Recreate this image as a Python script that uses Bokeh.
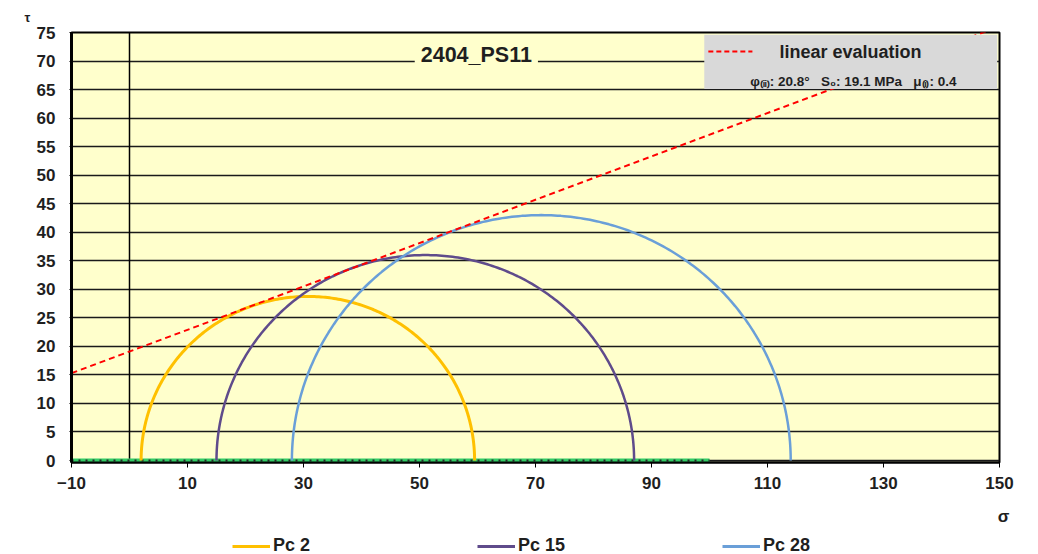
import numpy as np
from bokeh.plotting import figure
from bokeh.layouts import column
from bokeh.models import Range1d, FixedTicker, Legend, LegendItem, Label, Span
from bokeh.embed import file_html
from bokeh.resources import INLINE

# Mohr circles: confining pressure (sigma3) and peak axial stress (sigma1), MPa
pc_labels = ["Pc 2", "Pc 15", "Pc 28"]
sigma3 = [2.0, 15.0, 28.0]
sigma1 = [59.5, 87.0, 114.0]
circle_colors = ["#ffc000", "#5f4b8b", "#6a9fd8"]
circle_widths = [3, 2.5, 2.5]

# Linear (Mohr-Coulomb) evaluation
phi_deg = 20.8
s0 = 19.1
mu = 0.4
env_sigma = [-10.0, 150.0]

# Tested stress range marked on the sigma axis
tested_range = [-10.0, 100.0]

x_ticks = [-10, 10, 30, 50, 70, 90, 110, 130, 150]
y_ticks = list(range(0, 80, 5))

FONT = "Liberation Sans"
TXT = "#1f1f1f"
NB = "\u00a0"

p = figure(width=1038, height=508, output_backend="svg", toolbar_location=None,
           x_range=Range1d(-10, 150), y_range=Range1d(-0.35, 75),
           min_border_left=71, min_border_right=39,
           min_border_top=31, min_border_bottom=46)
p.background_fill_color = "#ffffcc"
p.border_fill_color = "white"
p.outline_line_color = "black"
p.outline_line_width = 2

# axes
p.xaxis.ticker = FixedTicker(ticks=x_ticks)
p.yaxis.ticker = FixedTicker(ticks=y_ticks)
for ax in (p.xaxis[0], p.yaxis[0]):
    ax.major_label_text_font = FONT
    ax.major_label_text_font_style = "bold"
    ax.major_label_text_font_size = "17px"
    ax.major_label_text_color = TXT
    ax.axis_line_color = "black"
    ax.major_tick_line_color = "black"
    ax.minor_tick_line_color = None
p.xaxis.axis_line_width = 2
p.xaxis.major_tick_in = 0
p.xaxis.major_tick_out = 5
p.xaxis.major_label_standoff = 9
p.yaxis.axis_line_width = 3
p.yaxis.major_tick_in = 0
p.yaxis.major_tick_out = 2
p.yaxis.major_label_standoff = 14

# grid
p.xgrid.grid_line_color = None
p.ygrid.ticker = FixedTicker(ticks=y_ticks)
p.ygrid.grid_line_color = "#1a1a1a"
p.ygrid.grid_line_width = 1.6

p.add_layout(Span(location=0, dimension="height", line_color="black",
                  line_width=1.5, level="underlay"))

# tested stress range on the sigma axis
p.line(tested_range, [0, 0], line_color="#33cc66", line_width=4)
p.line(tested_range, [0, 0], line_color="#2a2a2a", line_width=2, line_dash="2 5")

# Mohr half circles
theta = np.linspace(0, np.pi, 241)
for s3, s1, col, lw in zip(sigma3, sigma1, circle_colors, circle_widths):
    c = (s1 + s3) / 2.0
    r = (s1 - s3) / 2.0
    p.line(c + r * np.cos(theta), r * np.sin(theta), line_color=col, line_width=lw)

# failure envelope
tan_phi = np.tan(np.radians(phi_deg))
env_tau = [s0 + tan_phi * s for s in env_sigma]
p.line(env_sigma, env_tau, line_color="#ff0000", line_width=2, line_dash="6 4")

# evaluation box
p.quad(left=[99.1], right=[149.6], bottom=[65.1], top=[74.6],
       fill_color="#d9d9d9", line_color=None)
p.line([99.8, 107.4], [71.65, 71.65], line_color="#ff0000", line_width=2,
       line_dash="5 3")
p.add_layout(Label(x=124.3, y=71.65, text="linear evaluation",
                   text_font=FONT, text_font_style="bold", text_font_size="18px",
                   text_color=TXT, text_align="center", text_baseline="middle"))
param_text = (f"\u03c6\u208d\u1d62\u1d62\u208e: {phi_deg}\u00b0{NB}{NB}{NB}"
              f"S\u2080: {s0} MPa{NB}{NB}{NB}\u03bc\u208d\u1d62\u208e: {mu}")
p.add_layout(Label(x=124.8, y=66.4, text=param_text,
                   text_font=FONT, text_font_style="bold", text_font_size="13.5px",
                   text_color=TXT, text_align="center", text_baseline="middle"))

# sample title
p.add_layout(Label(x=59.8, y=71.1, text="2404_PS11",
                   text_font=FONT, text_font_style="bold", text_font_size="21.5px",
                   text_color=TXT, text_align="center", text_baseline="middle",
                   background_fill_color="#ffffcc", padding=6))

# tau symbol above the vertical axis
p.title.text = "\u03c4"
p.title.align = "left"
p.title.offset = -47
p.title.text_font = FONT
p.title.text_font_style = "bold"
p.title.text_font_size = "13px"
p.title.text_color = TXT
p.title.standoff = 15

# strip underneath the chart: sigma symbol and the series legend
leg = figure(width=1038, height=46, output_backend="svg", toolbar_location=None,
             x_range=Range1d(0, 1038), y_range=Range1d(0, 46),
             x_axis_location=None, y_axis_location=None, min_border=0)
# keep the strip's frame the full page width (not aligned to the chart frame)
frame_left, frame_right = 0, 1038
try:
    leg.frame_align = False
except Exception:
    frame_left, frame_right = 73, 999
    leg.x_range = Range1d(frame_left, frame_right)
leg.grid.visible = False
leg.outline_line_color = None
leg.background_fill_color = "white"
leg.border_fill_color = "white"
sigma_x = min(1003, frame_right - 7)
leg.add_layout(Label(x=sigma_x, y=38, text="\u03c3", text_font=FONT,
                     text_font_style="bold", text_font_size="17px",
                     text_color=TXT, text_align="center", text_baseline="middle"))
keys = [leg.line([-20, -10], [-20, -20], line_color=col, line_width=3)
        for col in circle_colors]
legend = Legend(items=[LegendItem(label=lab, renderers=[r])
                       for lab, r in zip(pc_labels, keys)],
                orientation="horizontal", location=(232 - frame_left, -2),
                label_text_font=FONT, label_text_font_style="bold",
                label_text_font_size="18px", label_text_color=TXT,
                glyph_width=38, glyph_height=16, label_standoff=3,
                label_width=204, spacing=0, padding=0, margin=0,
                background_fill_alpha=0, border_line_alpha=0)
leg.add_layout(legend, "center")

layout = column(p, leg, spacing=0)
open("out.html", "w").write(file_html(layout, INLINE))
